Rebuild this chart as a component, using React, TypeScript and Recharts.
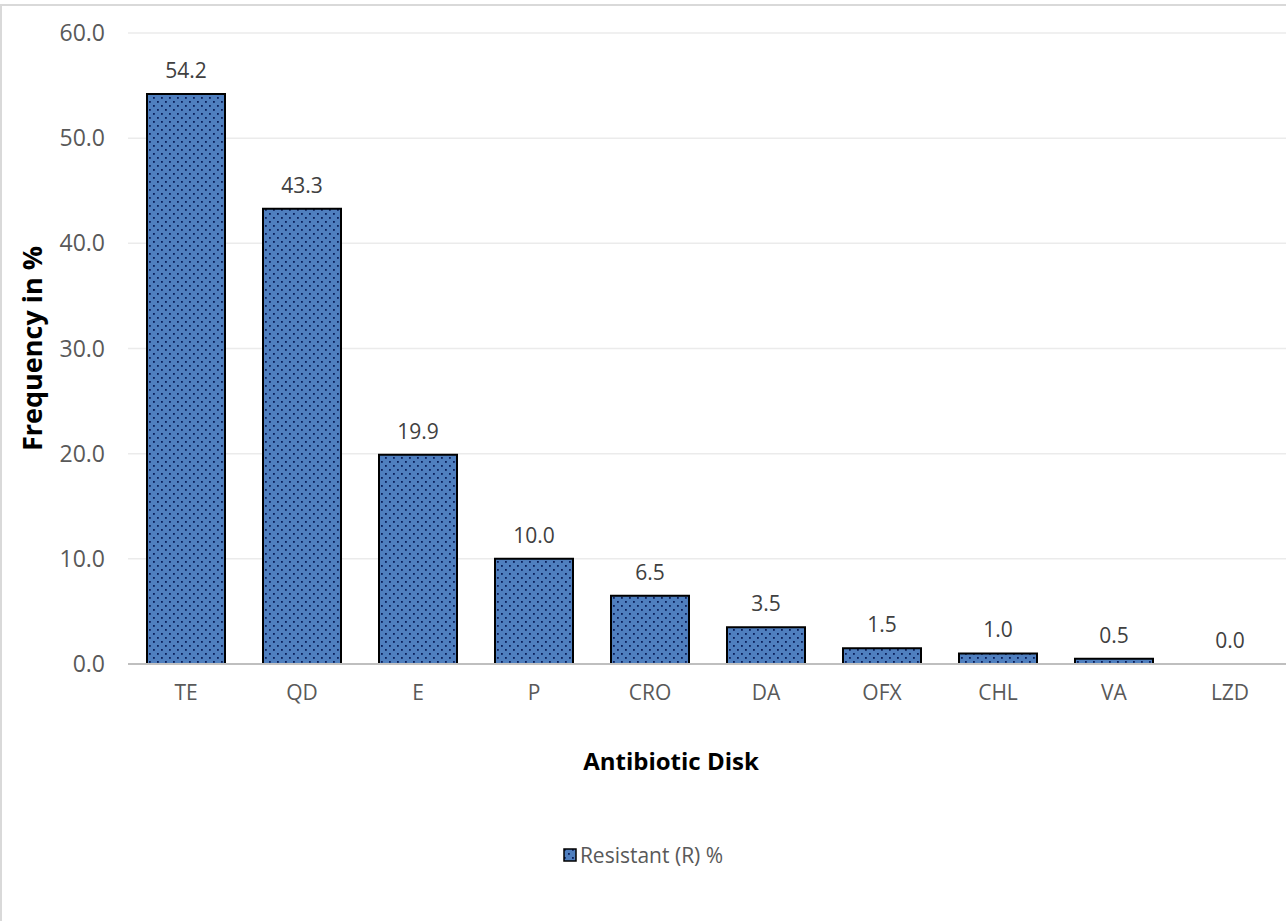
import React from 'react';
import {
  BarChart,
  Bar,
  XAxis,
  YAxis,
  CartesianGrid,
  LabelList,
  Label,
  Cell,
} from 'recharts';

const disks = ['TE', 'QD', 'E', 'P', 'CRO', 'DA', 'OFX', 'CHL', 'VA', 'LZD'];
const resistant = [54.2, 43.3, 19.9, 10.0, 6.5, 3.5, 1.5, 1.0, 0.5, 0.0];
const yTicks = [0, 10, 20, 30, 40, 50, 60];

const data = disks.map((d, i) => ({ disk: d, value: resistant[i] }));

const FONT = '"Open Sans", "Noto Sans", sans-serif';
const TEXT = '#595959';

function LegendBox() {
  return (
    <div
      style={{
        position: 'absolute',
        left: 0,
        top: 841,
        width: 1286,
        display: 'flex',
        alignItems: 'center',
        justifyContent: 'center',
        fontFamily: FONT,
        fontSize: 21,
        color: TEXT,
      }}
    >
      <svg width={14} height={14} style={{ marginRight: 3 }}>
        <rect x={1} y={1} width={12} height={12} fill="url(#dots)" stroke="#000" strokeWidth={1.5} />
      </svg>
      <span>Resistant (R) %</span>
    </div>
  );
}

export default function App() {
  return (
    <div
      style={{
        position: 'fixed',
        left: 0,
        top: 0,
        width: 1286,
        height: 921,
        overflow: 'hidden',
        background: '#fff',
      }}
    >
      <div
        style={{
          position: 'absolute',
          left: 0,
          top: 4,
          width: 1300,
          height: 940,
          border: '2px solid #d9d9d9',
          boxSizing: 'border-box',
        }}
      />
      <div style={{ position: 'absolute', left: 0, top: 0 }}>
        <BarChart
          width={1292}
          height={921}
          data={data}
          margin={{ top: 33, right: 4, left: 20, bottom: 197 }}
        >
          <defs>
            <pattern id="dots" width={8} height={8} patternUnits="userSpaceOnUse">
              <rect width={8} height={8} fill="#4f7fbf" />
              <rect x={1} y={1} width={1.8} height={1.8} fill="#0a1f5c" />
              <rect x={5} y={5} width={1.8} height={1.8} fill="#0a1f5c" />
            </pattern>
          </defs>
          <CartesianGrid vertical={false} stroke="#ebebeb" strokeWidth={1.5} />
          <XAxis
            dataKey="disk"
            height={60}
            tickLine={false}
            axisLine={{ stroke: '#bfbfbf', strokeWidth: 2 }}
            tick={{ fill: TEXT, fontSize: 21, fontFamily: FONT }}
            tickMargin={15}
          >
            <Label
              value="Antibiotic Disk"
              position="insideBottom"
              offset={-46}
              dx={-37}
              style={{ fill: '#000', fontSize: 24, fontWeight: 700, fontFamily: FONT }}
            />
          </XAxis>
          <YAxis
            width={108}
            domain={[0, 60]}
            ticks={yTicks}
            tickFormatter={(v: number) => v.toFixed(1)}
            axisLine={false}
            tickLine={false}
            tickSize={0}
            tickMargin={23}
            tick={{ fill: TEXT, fontSize: 23, fontFamily: FONT }}
          >
            <Label
              value="Frequency in %"
              angle={-90}
              position="insideLeft"
              offset={12}
              style={{ textAnchor: 'middle', fill: '#000', fontSize: 27, fontWeight: 700, fontFamily: FONT }}
            />
          </YAxis>
          <Bar
            dataKey="value"
            barSize={78}
            fill="url(#dots)"
            stroke="#000"
            strokeWidth={2}
            minPointSize={0.01}
            isAnimationActive={false}
          >
            {data.map((entry, i) => (
              <Cell key={`cell-${i}`} stroke={entry.value > 0 ? '#000' : 'none'} />
            ))}
            <LabelList
              dataKey="value"
              position="top"
              offset={16}
              formatter={(v: number) => v.toFixed(1)}
              style={{ fill: '#404040', fontSize: 21, fontFamily: FONT }}
            />
          </Bar>
        </BarChart>
      </div>
      <LegendBox />
    </div>
  );
}
